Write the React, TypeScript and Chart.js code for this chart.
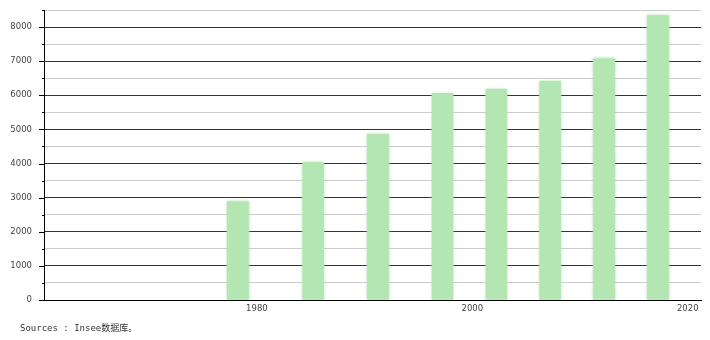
import React, { useEffect, useRef } from "react";
import { Chart, registerables } from "chart.js";

Chart.register(...registerables);

const years = [1978, 1985, 1991, 1997, 2002, 2007, 2012, 2017];
const values = [2880, 4025, 4860, 6060, 6185, 6420, 7070, 8335];
const xTickLabels = [1980, 2000, 2020];
const sourceText = "Sources : Insee数据库。";

const barColor = "#b3e6b3";

export default function App() {
  const ref = useRef<HTMLCanvasElement | null>(null);

  useEffect(() => {
    if (!ref.current) return;
    const shadowPlugin = {
      id: "barShadow",
      beforeDatasetsDraw(chart: any) {
        const ctx = chart.ctx;
        ctx.save();
        ctx.shadowColor = "rgba(170,225,170,0.9)";
        ctx.shadowBlur = 3;
      },
      afterDatasetsDraw(chart: any) {
        chart.ctx.restore();
      },
    };
    const tickPlugin = {
      id: "yTickMarks",
      afterDraw(chart: any) {
        const ctx = chart.ctx;
        const y = chart.scales.y;
        const left = chart.chartArea.left;
        ctx.save();
        ctx.strokeStyle = "#000";
        ctx.lineWidth = 1;
        for (let v = 0; v <= 8500; v += 500) {
          const py = Math.round(y.getPixelForValue(v)) + 0.5;
          const len = v % 1000 === 0 ? 5 : 2;
          ctx.beginPath();
          ctx.moveTo(left - len, py);
          ctx.lineTo(left, py);
          ctx.stroke();
        }
        ctx.restore();
      },
    };
    const chart = new Chart(ref.current, {
      type: "bar",
      data: {
        datasets: [
          {
            data: years.map((yr, i) => ({ x: yr, y: values[i] })),
            backgroundColor: barColor,
            borderWidth: 0,
            barThickness: 21,
          },
        ],
      },
      options: {
        animation: false,
        responsive: false,
        maintainAspectRatio: false,
        layout: { padding: { left: 0, right: 9, top: 10, bottom: 0 } },
        plugins: {
          legend: { display: false },
          tooltip: { enabled: false },
          title: { display: false },
        },
        scales: {
          x: {
            type: "linear",
            min: 1960,
            max: 2021,
            offset: false,
            grid: { display: false, drawTicks: false },
            border: { display: true, color: "#000", width: 1 },
            afterBuildTicks(scale: any) {
              scale.ticks = xTickLabels.map((v) => ({ value: v }));
            },
            afterFit(scale: any) {
              scale.height = 40;
              scale.paddingLeft = 0;
              scale.paddingRight = 0;
            },
            ticks: {
              color: "#444",
              font: { family: "DejaVu Sans", size: 8.5 },
              padding: 4,
              labelOffset: -2.5,
              maxRotation: 0,
              autoSkip: false,
              callback: (v: any) => String(v),
            },
          },
          y: {
            min: 0,
            max: 8500,
            grid: {
              drawTicks: false,
              color: (c: any) =>
                c.tick && c.tick.value % 1000 === 0 ? "#333" : "#ccc",
              lineWidth: 1,
            },
            border: { display: true, color: "#000", width: 1 },
            afterFit(scale: any) {
              scale.width = 44;
              scale.paddingTop = 0;
              scale.paddingBottom = 0;
            },
            ticks: {
              stepSize: 500,
              color: "#444",
              font: { family: "DejaVu Sans", size: 8.5 },
              padding: 12,
              autoSkip: false,
              callback: (v: any) => (Number(v) % 1000 === 0 ? String(v) : ""),
            },
          },
        },
      },
      plugins: [shadowPlugin, tickPlugin],
    });
    return () => chart.destroy();
  }, []);

  return (
    <div
      style={{
        position: "fixed",
        left: 0,
        top: 0,
        width: 710,
        height: 340,
        background: "#fff",
      }}
    >
      <canvas
        ref={ref}
        width={710}
        height={340}
        style={{ position: "absolute", left: 0, top: 0, width: 710, height: 340 }}
      />
      <div
        style={{
          position: "absolute",
          left: 20,
          top: 322,
          fontFamily: "'DejaVu Sans Mono', 'Noto Sans CJK SC', monospace",
          fontSize: 9,
          lineHeight: "12px",
          color: "#333",
          whiteSpace: "nowrap",
        }}
      >
        {sourceText}
      </div>
    </div>
  );
}
